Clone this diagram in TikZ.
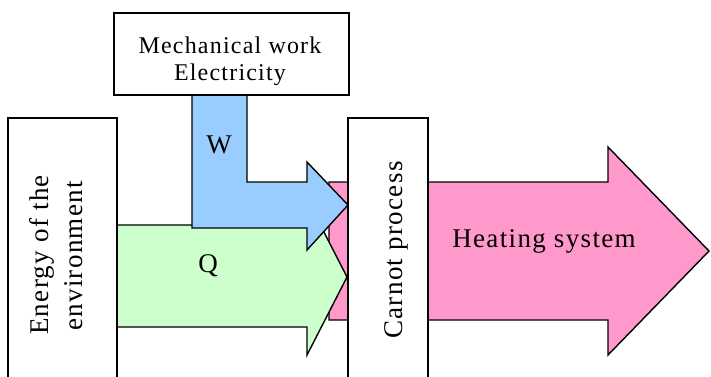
\documentclass[tikz,border=0pt]{standalone}
\usepackage{fontspec}
\setmainfont{Liberation Serif}[LetterSpace=5]
\usetikzlibrary{backgrounds}
\definecolor{wblue}{HTML}{99CCFF}
\definecolor{qgreen}{HTML}{CCFFCC}
\definecolor{hpink}{HTML}{FF99CC}
\begin{document}
\begin{tikzpicture}[x=1pt,y=-1pt,
  box/.style={draw=black,line width=1.4pt,fill=white,inner sep=0pt,rectangle},
  blockarrow/.style={draw=black,line width=1.4pt,line join=miter},
  lbl/.style={font=\fontsize{27}{32}\selectfont,inner sep=0pt,anchor=base},
  small/.style={font=\fontsize{24}{28}\selectfont,inner sep=0pt,anchor=base}]
\useasboundingbox (0,0) rectangle (711,376);
% boxes
\node[box,minimum width=235pt,minimum height=82pt] (top) at (231.5,54) {};
\node[box,minimum width=109pt,minimum height=264pt] (env) at (62.5,250) {};
\node[box,minimum width=80pt,minimum height=264pt] (carnot) at (388,250) {};
% block arrows behind the boxes
\begin{pgfonlayer}{background}
  \filldraw[blockarrow,fill=hpink] (329,182) -- (608,182) -- (608,147) -- (709,251)
     -- (608,355) -- (608,320) -- (329,320) -- cycle;
  \filldraw[blockarrow,fill=qgreen] (117,225) -- (307,225) -- (307,199) -- (347,277)
     -- (307,355) -- (307,327) -- (117,327) -- cycle;
  \filldraw[blockarrow,fill=wblue] (192,95) -- (247,95) -- (247,182) -- (307,182)
     -- (307,162) -- (348,205) -- (307,250) -- (307,228) -- (192,228) -- cycle;
\end{pgfonlayer}
% texts
\node[small] (mw) at (230,53) {Mechanical work};
\node[small] (el) at (230,80) {Electricity};
\node[lbl] (hs) at (544,247) {Heating system};
\node[lbl] (w) at (219,153) {W};
\node[lbl] (q) at (208,272) {Q};
\node[lbl,rotate=90] (e1) at (48,255) {Energy of the};
\node[lbl,rotate=90] (e2) at (82,256) {environment};
\node[lbl,rotate=90] (cp) at (402,250) {Carnot process};
\end{tikzpicture}
\end{document}
